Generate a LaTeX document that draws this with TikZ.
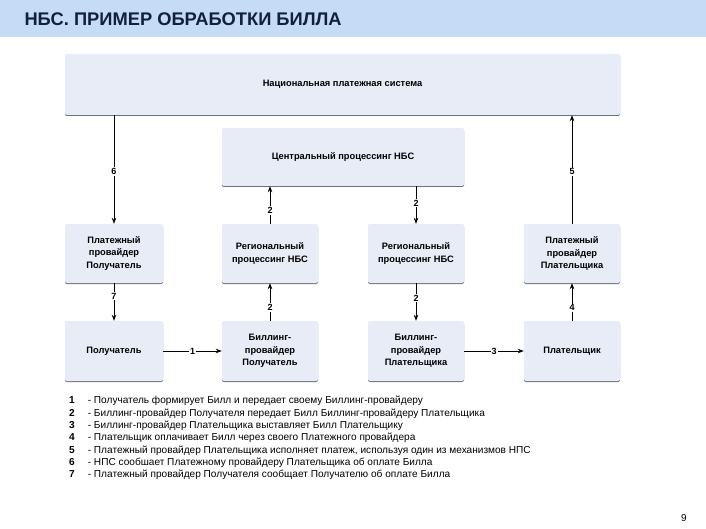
\documentclass[tikz,border=0pt]{standalone}
\usepackage{fontspec}
\setmainfont{Liberation Sans}
\usepackage{xcolor}
\usetikzlibrary{arrows,arrows.meta,positioning,shadows}
\definecolor{bandblue}{RGB}{198,219,245}
\definecolor{titlenavy}{RGB}{18,32,64}
\definecolor{boxfill}{RGB}{231,236,246}
\definecolor{boxedge}{RGB}{110,114,120}
\tikzset{
    >={Stealth[length=6pt,width=4.5pt]}, % filled arrow heads
    blockbox/.style={fill=boxfill, rounded corners=2pt, align=center,
        font=\fontsize{9.3}{12.5}\selectfont\bfseries,
        drop shadow={shadow xshift=0pt, shadow yshift=-1pt, fill=boxedge, opacity=1}},
    flow/.style={->, line width=0.8pt},
    steplabel/.style={fill=white, inner sep=1pt, font=\fontsize{9}{10}\selectfont\bfseries},
}
\tikzstyle{legendtext} = [align=left, anchor=north west, inner sep=0pt]

\begin{document}
\begin{tikzpicture}[x=1pt, y=-1pt]
        \useasboundingbox (0,0) rectangle (706,529);

        % Titolo in alto
        \fill[bandblue] (0,0) rectangle (706,37);
        \node[anchor=west, text=titlenavy, font=\fontsize{18.3}{21}\selectfont\bfseries] (title) at (21,19) {НБС. ПРИМЕР ОБРАБОТКИ БИЛЛА};

        % Blocchi del sistema
        \node[blockbox, minimum width=555pt, minimum height=61pt] (nps) at (342.5,84.5) {Национальная платежная система};
        \node[blockbox, minimum width=242pt, minimum height=58pt] (central) at (343,157) {Центральный процессинг НБС};

        % Seconda riga
        \node[blockbox, minimum width=98pt, minimum height=59pt] (provrecv) at (114,253.5) {Платежный\\провайдер\\Получатель};
        \node[blockbox, minimum width=96pt, minimum height=59pt] (regleft) at (270,253.5) {Региональный\\процессинг НБС};
        \node[blockbox, minimum width=96pt, minimum height=59pt] (regright) at (416,253.5) {Региональный\\процессинг НБС};
        \node[blockbox, minimum width=96pt, minimum height=59pt] (provpay) at (572,253.5) {Платежный\\провайдер\\Плательщика};

        % Terza riga
        \node[blockbox, minimum width=98pt, minimum height=60pt] (recv) at (114,351) {Получатель};
        \node[blockbox, minimum width=96pt, minimum height=60pt] (billrecv) at (270,351) {Биллинг-\\провайдер\\Получатель};
        \node[blockbox, minimum width=96pt, minimum height=60pt] (billpay) at (416,351) {Биллинг-\\провайдер\\Плательщика};
        \node[blockbox, minimum width=96pt, minimum height=60pt] (payer) at (572,351) {Плательщик};

        % Frecce numerate
        \draw[flow] (nps.south -| provrecv.north) -- node[steplabel, pos=0.52] {6} (provrecv.north);
        \draw[flow] (provpay.north) -- node[steplabel, pos=0.48] {5} (nps.south -| provpay.north);
        \draw[flow] (regleft.north) -- node[steplabel, pos=0.35] {2} (central.south -| regleft.north);
        \draw[flow] (central.south -| regright.north) -- node[steplabel, pos=0.45] {2} (regright.north);
        \draw[flow] (billrecv.north) -- node[steplabel, pos=0.35] {2} (regleft.south);
        \draw[flow] (regright.south) -- node[steplabel, pos=0.4] {2} (billpay.north);
        \draw[flow] (provrecv.south) -- node[steplabel, pos=0.35] {7} (recv.north);
        \draw[flow] (payer.north) -- node[steplabel, pos=0.35] {4} (provpay.south);
        \draw[flow] (recv.east) -- node[steplabel, pos=0.5] {1} (billrecv.west);
        \draw[flow] (billpay.east) -- node[steplabel, pos=0.5] {3} (payer.west);

        % Legenda
        \node[legendtext] (legend) at (69,395) {\fontsize{10.1}{12.3}\selectfont
            \begin{tabular}{@{}l@{\hspace{13pt}}l@{}}
            \textbf{1} & - Получатель формирует Билл и передает своему Биллинг-провайдеру \\
            \textbf{2} & - Биллинг-провайдер Получателя передает Билл Биллинг-провайдеру Плательщика \\
            \textbf{3} & - Биллинг-провайдер Плательщика выставляет Билл Плательщику \\
            \textbf{4} & - Плательщик оплачивает Билл через своего Платежного провайдера \\
            \textbf{5} & - Платежный провайдер Плательщика исполняет платеж, используя один из механизмов НПС \\
            \textbf{6} & - НПС сообшает Платежному провайдеру Плательщика об оплате Билла \\
            \textbf{7} & - Платежный провайдер Получателя сообщает Получателю об оплате Билла
            \end{tabular}};

        % Numero di pagina
        \node[font=\fontsize{10}{11}\selectfont] (pagenum) at (684,518) {9};
    \end{tikzpicture}
\end{document}
